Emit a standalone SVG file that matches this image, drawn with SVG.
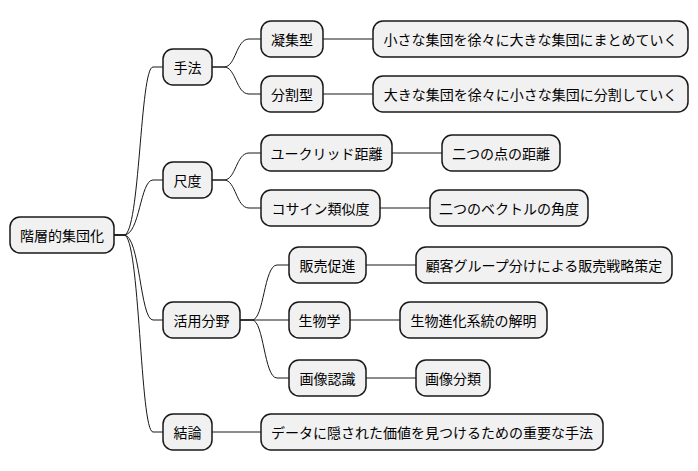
<svg xmlns="http://www.w3.org/2000/svg" width="698" height="471" viewBox="0 0 698 471">
<style>
.n rect{fill:#f1f1f1;stroke:#181818;stroke-width:1.5}
.n text{font-family:"Noto Sans CJK JP","Noto Sans",sans-serif;font-size:14px;fill:#000;dominant-baseline:central;text-anchor:middle}
.c path{fill:none;stroke:#181818;stroke-width:1}
</style>
<rect width="698" height="471" fill="#fff"/>
<g class="c">
<path d="M114,235 L124,235 C140,235 140,67 153,67 L163,67"/>
<path d="M114,235 L124,235 C140,235 140,180 153,180 L163,180"/>
<path d="M114,235 L124,235 C140,235 140,320 153,320 L163,320"/>
<path d="M114,235 L124,235 C140,235 140,432 153,432 L163,432"/>
<path d="M212,67 L224,67 C236,67 236,39 249,39 L261,39"/>
<path d="M212,67 L224,67 C236,67 236,94 249,94 L261,94"/>
<path d="M323,39 L373,39"/>
<path d="M323,94 L373,94"/>
<path d="M212,180 L224,180 C236,180 236,153 249,153 L261,153"/>
<path d="M212,180 L224,180 C236,180 236,208 249,208 L261,208"/>
<path d="M392,153 L442,153"/>
<path d="M380,208 L430,208"/>
<path d="M240,320 L252,320 C264,320 264,265 277,265 L289,265"/>
<path d="M240,320 L289,320"/>
<path d="M240,320 L252,320 C264,320 264,378 277,378 L289,378"/>
<path d="M366,265 L416,265"/>
<path d="M350,320 L400,320"/>
<path d="M366,378 L416,378"/>
<path d="M212,432 L261,432"/>
</g>
<g id="root" class="n"><rect x="10" y="217" width="104" height="36" rx="10"/><text x="62" y="235">階層的集団化</text></g>
<g id="n1" class="n"><rect x="163" y="49" width="49" height="36" rx="10"/><text x="187.5" y="67">手法</text></g>
<g id="n11" class="n"><rect x="261" y="21" width="62" height="36" rx="10"/><text x="292" y="39">凝集型</text></g>
<g id="n111" class="n"><rect x="373" y="21" width="315" height="36" rx="10"/><text x="530.5" y="39">小さな集団を徐々に大きな集団にまとめていく</text></g>
<g id="n12" class="n"><rect x="261" y="76" width="62" height="36" rx="10"/><text x="292" y="94">分割型</text></g>
<g id="n121" class="n"><rect x="373" y="76" width="315" height="36" rx="10"/><text x="530.5" y="94">大きな集団を徐々に小さな集団に分割していく</text></g>
<g id="n2" class="n"><rect x="163" y="162" width="49" height="36" rx="10"/><text x="187.5" y="180">尺度</text></g>
<g id="n21" class="n"><rect x="261" y="135" width="131" height="36" rx="10"/><text x="326.5" y="153">ユークリッド距離</text></g>
<g id="n211" class="n"><rect x="442" y="135" width="118" height="36" rx="10"/><text x="501" y="153">二つの点の距離</text></g>
<g id="n22" class="n"><rect x="261" y="190" width="119" height="36" rx="10"/><text x="320.5" y="208">コサイン類似度</text></g>
<g id="n221" class="n"><rect x="430" y="190" width="158" height="36" rx="10"/><text x="509" y="208">二つのベクトルの角度</text></g>
<g id="n3" class="n"><rect x="163" y="302" width="77" height="36" rx="10"/><text x="201.5" y="320">活用分野</text></g>
<g id="n31" class="n"><rect x="289" y="247" width="77" height="36" rx="10"/><text x="327.5" y="265">販売促進</text></g>
<g id="n311" class="n"><rect x="416" y="247" width="256" height="36" rx="10"/><text x="544" y="265">顧客グループ分けによる販売戦略策定</text></g>
<g id="n32" class="n"><rect x="289" y="302" width="61" height="36" rx="10"/><text x="319.5" y="320">生物学</text></g>
<g id="n321" class="n"><rect x="400" y="302" width="147" height="36" rx="10"/><text x="473.5" y="320">生物進化系統の解明</text></g>
<g id="n33" class="n"><rect x="289" y="360" width="77" height="36" rx="10"/><text x="327.5" y="378">画像認識</text></g>
<g id="n331" class="n"><rect x="416" y="360" width="74" height="36" rx="10"/><text x="453" y="378">画像分類</text></g>
<g id="n4" class="n"><rect x="163" y="414" width="49" height="36" rx="10"/><text x="187.5" y="432">結論</text></g>
<g id="n41" class="n"><rect x="261" y="414" width="342" height="36" rx="10"/><text x="432" y="432">データに隠された価値を見つけるための重要な手法</text></g>
</svg>
